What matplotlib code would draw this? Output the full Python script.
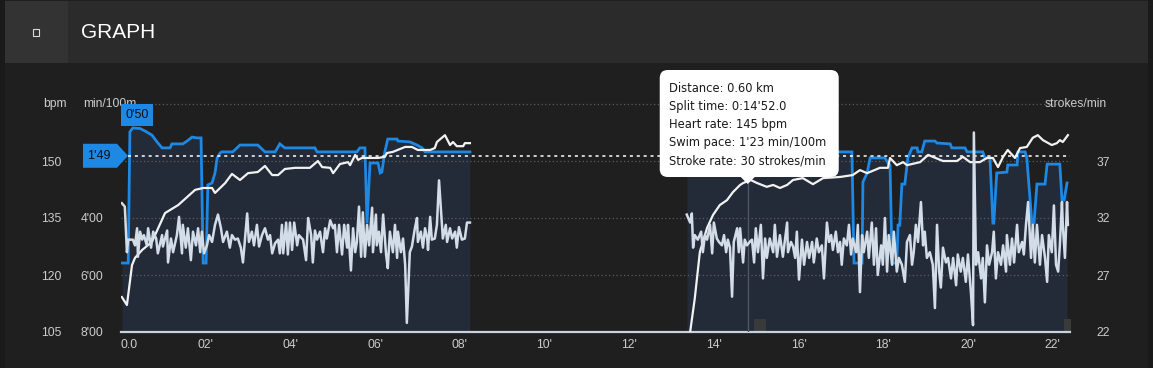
import matplotlib
matplotlib.use('Agg')
import matplotlib.pyplot as plt
from matplotlib.patches import Rectangle, Polygon, FancyBboxPatch
from matplotlib.transforms import IdentityTransform

# ---------------- data ----------------
time_ticks = [0, 2, 4, 6, 8, 10, 12, 14, 16, 18, 20, 22]
time_labels = ["0.0", "02'", "04'", "06'", "08'", "10'", "12'", "14'", "16'", "18'", "20'", "22'"]
hr_ticks = [105, 120, 135, 150]
pace_ticks = [4, 6, 8]
pace_labels = ["4'00", "6'00", "8'00"]
stroke_ticks = [22, 27, 32, 37]

# heart rate (bpm)
hr_t1 = [0.02, 0.14, 0.26, 0.33, 0.50, 0.73, 1.04, 1.35, 1.75, 1.94,
         2.15, 2.22, 2.46, 2.62, 2.81, 3.00, 3.23, 3.40, 3.57, 3.71,
         3.87, 4.11, 4.23, 4.46, 4.65, 4.75, 4.94, 5.01, 5.17, 5.36,
         5.41, 5.53, 5.60, 5.69, 5.81, 6.07, 6.23, 6.28, 6.42, 6.71,
         6.87, 7.01, 7.30, 7.41, 7.46, 7.65, 7.77, 7.84, 7.93, 8.08,
         8.12, 8.24]
hr_v1 = [114.2, 112.1, 122.6, 124.5, 126.6, 128.7, 136.3, 138.4, 142.4, 142.9,
         142.9, 141.6, 144.2, 146.6, 145.0, 146.8, 147.1, 148.7, 146.3, 146.3,
         147.9, 148.2, 148.2, 148.2, 150.0, 148.4, 148.2, 146.8, 149.2, 149.7,
         148.9, 151.6, 150.3, 150.8, 150.8, 150.8, 151.1, 152.1, 152.4, 153.7,
         153.7, 152.9, 152.9, 153.4, 155.0, 156.8, 154.2, 155.0, 153.9, 153.9,
         154.7, 154.7]
hr_t2 = [13.44, 13.55, 13.67, 13.84, 13.98, 14.14, 14.31, 14.45, 14.62, 14.69,
         14.87, 15.02, 15.25, 15.40, 15.56, 15.73, 15.87, 16.10, 16.34, 16.58,
         16.98, 17.28, 17.45, 17.62, 17.92, 18.11, 18.16, 18.32, 18.47, 18.56,
         18.87, 19.06, 19.17, 19.41, 19.74, 19.88, 20.05, 20.28, 20.45, 20.59,
         20.71, 20.83, 20.94, 21.11, 21.23, 21.39, 21.53, 21.65, 21.77, 21.98,
         22.10, 22.17, 22.24, 22.36]
hr_v2 = [105.0, 113.9, 126.1, 132.4, 135.8, 138.4, 139.7, 141.8, 143.7, 144.2,
         145.0, 144.2, 143.2, 143.7, 142.9, 143.7, 145.0, 145.5, 143.9, 145.5,
         145.8, 146.3, 147.6, 146.8, 148.2, 148.2, 150.8, 148.9, 149.7, 148.9,
         149.7, 151.6, 151.1, 150.0, 150.0, 151.1, 149.7, 149.7, 150.8, 150.8,
         148.4, 151.1, 152.9, 150.8, 153.4, 153.7, 156.1, 156.8, 155.5, 154.2,
         154.7, 155.5, 155.0, 156.8]

# swim pace (min/100m)
pace_t1 = [0.02, 0.17, 0.21, 0.28, 0.45, 0.57, 0.73, 0.85, 0.97, 1.16,
           1.20, 1.46, 1.56, 1.68, 1.79, 1.89, 1.94, 2.01, 2.05, 2.15,
           2.22, 2.27, 2.34, 2.38, 2.64, 2.81, 3.23, 3.40, 3.64, 3.75,
           3.87, 4.58, 4.63, 5.57, 5.64, 5.76, 5.81, 5.88, 6.07, 6.12,
           6.16, 6.23, 6.30, 6.52, 6.54, 6.82, 6.99, 7.11, 7.18, 8.24]
pace_v1 = [5.58, 5.58, 0.98, 0.84, 0.86, 0.95, 1.09, 1.33, 1.54, 1.54,
           1.40, 1.40, 1.30, 1.16, 1.19, 1.19, 5.58, 5.58, 2.84, 2.77,
           2.42, 1.89, 1.72, 1.68, 1.68, 1.44, 1.44, 1.68, 1.68, 1.40,
           1.54, 1.54, 1.68, 1.68, 1.54, 1.54, 4.18, 2.07, 2.07, 2.42,
           2.39, 1.68, 1.23, 1.23, 1.30, 1.33, 1.44, 1.54, 1.68, 1.68]
pace_t2 = [13.36, 14.20, 14.87, 15.30, 16.60, 17.26, 17.31, 17.50, 17.52, 17.62,
           17.69, 18.04, 18.11, 18.16, 18.21, 18.32, 18.35, 18.39, 18.44, 18.51,
           18.58, 18.68, 18.80, 18.82, 18.91, 18.98, 19.22, 19.27, 19.58, 19.62,
           19.93, 19.98, 20.35, 20.40, 20.52, 20.59, 20.61, 20.68, 20.92, 20.94,
           21.16, 21.18, 21.35, 21.39, 21.51, 21.56, 21.63, 21.82, 21.87, 22.17,
           22.22, 22.27, 22.34]
pace_v2 = [1.62, 1.45, 1.38, 1.55, 1.68, 1.68, 5.58, 5.58, 2.74, 2.42,
           1.89, 1.89, 2.07, 2.14, 5.58, 5.58, 4.25, 4.25, 2.81, 2.81,
           1.89, 1.54, 1.54, 1.68, 1.68, 1.30, 1.30, 1.37, 1.40, 1.54,
           1.54, 1.68, 1.68, 1.89, 1.89, 4.18, 4.18, 2.42, 2.39, 2.14,
           2.14, 1.68, 1.68, 1.89, 4.18, 4.18, 2.81, 2.81, 2.11, 2.11,
           3.37, 3.37, 2.77]
avg_pace = 1 + 49 / 60.0

# stroke rate (strokes/min)
st_t1 = [0.02, 0.09, 0.14, 0.17, 0.28, 0.33, 0.38, 0.40, 0.45, 0.50,
         0.54, 0.61, 0.64, 0.71, 0.76, 0.83, 0.87, 0.97, 0.99, 1.09,
         1.11, 1.18, 1.23, 1.32, 1.37, 1.44, 1.46, 1.53, 1.58, 1.65,
         1.70, 1.77, 1.82, 1.87, 1.91, 1.96, 2.03, 2.08, 2.15, 2.22,
         2.29, 2.36, 2.41, 2.50, 2.57, 2.62, 2.69, 2.76, 2.83, 2.88,
         2.98, 3.02, 3.09, 3.14, 3.21, 3.26, 3.33, 3.40, 3.47, 3.52,
         3.57, 3.64, 3.71, 3.75, 3.80, 3.83, 3.90, 3.94, 3.99, 4.04,
         4.09, 4.16, 4.20, 4.30, 4.37, 4.42, 4.49, 4.53, 4.58, 4.63,
         4.70, 4.77, 4.82, 4.86, 4.94, 5.01, 5.05, 5.10, 5.15, 5.22,
         5.27, 5.34, 5.36, 5.43, 5.48, 5.53, 5.57, 5.62, 5.67, 5.71,
         5.76, 5.81, 5.86, 5.93, 5.95, 6.02, 6.04, 6.09, 6.14, 6.19,
         6.26, 6.30, 6.35, 6.42, 6.47, 6.52, 6.54, 6.61, 6.66, 6.71,
         6.75, 6.82, 6.87, 6.94, 6.99, 7.01, 7.08, 7.13, 7.18, 7.23,
         7.25, 7.30, 7.34, 7.41, 7.46, 7.51, 7.58, 7.60, 7.67, 7.70,
         7.77, 7.82, 7.89, 7.93, 7.98, 8.05, 8.12, 8.17, 8.24]
st_v1 = [33.3, 33.0, 29.0, 30.1, 30.1, 29.6, 31.1, 28.6, 30.8, 30.1,
         30.5, 29.6, 31.1, 29.4, 30.8, 30.2, 28.9, 30.5, 29.5, 30.9,
         28.1, 30.2, 29.0, 30.5, 32.1, 28.9, 31.4, 29.4, 31.1, 28.3,
         30.8, 29.6, 31.1, 29.0, 30.8, 28.9, 29.6, 30.5, 29.9, 31.4,
         32.3, 31.1, 29.9, 30.8, 29.4, 30.5, 30.1, 30.2, 29.4, 28.1,
         32.4, 29.9, 30.8, 29.6, 31.4, 29.5, 30.5, 31.1, 30.1, 30.5,
         28.9, 29.8, 30.1, 28.9, 31.4, 28.9, 31.6, 28.8, 31.6, 29.2,
         31.6, 29.6, 30.5, 30.1, 28.3, 32.0, 30.5, 28.1, 30.9, 30.1,
         30.8, 29.0, 31.1, 30.2, 31.8, 31.1, 31.4, 29.0, 31.4, 28.8,
         31.4, 29.4, 31.4, 27.4, 31.1, 29.0, 29.9, 33.0, 28.6, 32.5,
         28.6, 31.4, 29.6, 32.9, 29.0, 32.3, 29.6, 30.8, 29.0, 32.3,
         28.8, 27.6, 30.8, 29.0, 31.4, 28.5, 30.8, 29.0, 30.2, 27.9,
         22.8, 29.0, 29.5, 31.1, 32.0, 29.9, 30.8, 29.4, 31.1, 30.2,
         29.2, 32.1, 30.1, 30.2, 31.4, 35.3, 31.4, 30.2, 31.4, 29.9,
         31.1, 30.2, 30.8, 29.4, 31.2, 30.1, 30.2, 31.6, 31.6]
st_t2 = [13.36, 13.44, 13.48, 13.51, 13.55, 13.62, 13.70, 13.74, 13.79, 13.84,
         13.91, 13.96, 14.00, 14.07, 14.12, 14.19, 14.24, 14.29, 14.33, 14.38,
         14.43, 14.47, 14.55, 14.59, 14.62, 14.69, 14.73, 14.78, 14.87, 14.90,
         14.95, 14.99, 15.04, 15.11, 15.16, 15.21, 15.25, 15.32, 15.40, 15.44,
         15.49, 15.56, 15.63, 15.68, 15.73, 15.75, 15.82, 15.87, 15.92, 15.96,
         16.01, 16.08, 16.13, 16.20, 16.25, 16.32, 16.36, 16.43, 16.48, 16.55,
         16.60, 16.67, 16.72, 16.77, 16.81, 16.88, 16.93, 16.98, 17.02, 17.07,
         17.14, 17.19, 17.24, 17.28, 17.36, 17.40, 17.45, 17.50, 17.54, 17.62,
         17.66, 17.73, 17.78, 17.83, 17.87, 17.95, 17.99, 18.04, 18.09, 18.13,
         18.21, 18.25, 18.32, 18.37, 18.44, 18.51, 18.56, 18.63, 18.68, 18.72,
         18.77, 18.82, 18.89, 18.94, 18.98, 19.03, 19.10, 19.17, 19.22, 19.27,
         19.32, 19.36, 19.41, 19.48, 19.53, 19.60, 19.65, 19.72, 19.76, 19.83,
         19.88, 19.95, 20.00, 20.07, 20.12, 20.14, 20.19, 20.24, 20.31, 20.35,
         20.40, 20.45, 20.50, 20.57, 20.61, 20.66, 20.71, 20.78, 20.83, 20.90,
         20.92, 20.99, 21.04, 21.09, 21.16, 21.20, 21.28, 21.32, 21.37, 21.42,
         21.49, 21.53, 21.58, 21.63, 21.70, 21.75, 21.82, 21.87, 21.91, 21.98,
         22.03, 22.08, 22.13, 22.17, 22.22, 22.24, 22.29, 22.34, 22.36]
st_v2 = [32.3, 31.6, 32.4, 29.4, 30.5, 30.1, 30.8, 29.0, 30.5, 30.1,
         31.4, 28.9, 31.6, 30.2, 29.9, 29.6, 30.5, 29.0, 30.1, 29.4,
         25.1, 29.9, 31.1, 29.0, 31.1, 28.1, 30.1, 29.6, 30.0, 30.1,
         28.1, 31.1, 29.0, 31.4, 26.7, 30.2, 28.5, 30.2, 29.0, 31.4,
         28.6, 30.5, 28.6, 30.1, 31.6, 29.0, 29.9, 29.5, 28.5, 30.8,
         26.6, 30.1, 27.9, 29.9, 28.5, 29.9, 28.1, 30.2, 29.0, 29.6,
         26.7, 31.6, 29.9, 30.5, 29.2, 30.8, 29.0, 29.9, 27.9, 30.2,
         29.6, 31.4, 28.8, 30.2, 29.0, 31.4, 25.5, 30.5, 29.0, 30.8,
         28.5, 31.6, 27.9, 31.1, 27.0, 29.6, 27.9, 32.0, 27.3, 30.5,
         27.9, 30.8, 27.3, 28.5, 27.9, 26.4, 29.9, 30.5, 27.9, 29.0,
         31.4, 29.9, 33.4, 29.6, 30.8, 28.5, 29.0, 27.9, 24.1, 31.4,
         27.3, 25.9, 29.4, 28.1, 28.5, 26.7, 28.5, 26.1, 28.8, 27.3,
         28.5, 26.4, 28.8, 25.5, 22.6, 39.5, 27.9, 29.0, 26.7, 28.5,
         24.6, 29.6, 27.9, 29.0, 30.8, 26.7, 29.0, 27.9, 29.6, 27.3,
         30.5, 27.9, 30.2, 28.1, 31.4, 29.0, 29.9, 28.8, 31.4, 33.4,
         28.5, 31.4, 28.1, 31.4, 27.9, 30.5, 28.5, 26.4, 30.5, 29.0,
         33.1, 27.9, 27.3, 29.6, 33.4, 31.4, 28.5, 33.4, 31.4]

# hovered point (tooltip)
hover_t = 14.80
hover_hr = 145
tooltip_lines = ["Distance: 0.60 km", "Split time: 0:14'52.0", "Heart rate: 145 bpm",
                 "Swim pace: 1'23 min/100m", "Stroke rate: 30 strokes/min"]
lap_marks = [15.08, 22.41]

# ---------------- styling ----------------
W, H = 1153, 368
BG = '#1f1f1f'
SHADE = '#222b37'
BLUE = '#1e88e5'
HR_C = '#f2f2f2'
ST_C = '#d3dde8'
TXT = '#cccccc'
GRID = '#5c5c5c'
FONT = 'Liberation Sans'

fig = plt.figure(figsize=(W / 100, H / 100), dpi=100, facecolor=BG)


def frect(x, y, w, h, c, z=-10):
    fig.add_artist(Rectangle((x / W, 1 - (y + h) / H), w / W, h / H,
                             transform=fig.transFigure, color=c, zorder=z, lw=0))


frect(0, 0, W, H, '#1a1a1a', -12)
frect(5, 0, W - 10, H, BG, -11)
frect(5, 1, W - 10, 62, '#2b2b2b')
frect(5, 1, 63, 62, '#333333')
fig.add_artist(Rectangle((33 / W, 1 - 36 / H), 6 / W, 7 / H, transform=fig.transFigure,
                         facecolor='none', edgecolor='#dddddd', lw=0.8))
fig.text(81 / W, 1 - 32 / H, 'GRAPH', color='white', fontsize=15, family=FONT,
         va='center', ha='left')

L, R, T, B = 121, 1070, 104, 332
pos = [L / W, 1 - B / H, (R - L) / W, (B - T) / H]
ax_p = fig.add_axes(pos, zorder=1)
ax_h = fig.add_axes(pos, zorder=2, sharex=ax_p)
ax_s = fig.add_axes(pos, zorder=3, sharex=ax_p)
for a in (ax_p, ax_h, ax_s):
    a.set_facecolor('none')
    for sp in a.spines.values():
        sp.set_visible(False)
    a.tick_params(length=0, colors=TXT, labelsize=8.7)
    a.patch.set_visible(False)

ax_p.set_xlim(0, 22.41)
ax_p.set_ylim(8, 0)
ax_h.set_ylim(105, 165)
ax_s.set_ylim(22, 42)

# x ticks
ax_p.set_xticks(time_ticks)
ax_p.set_xticklabels(time_labels, family=FONT, fontsize=8.7)
ax_p.tick_params(axis='x', pad=5)
ax_p.get_xticklabels()[0].set_horizontalalignment('left')
ax_h.tick_params(axis='x', labelbottom=False)
ax_s.tick_params(axis='x', labelbottom=False)

# y ticks
ax_p.set_yticks(pace_ticks)
ax_p.set_yticklabels(pace_labels, family=FONT, fontsize=8.7)
ax_p.tick_params(axis='y', pad=13)
ax_h.set_yticks(hr_ticks)
ax_h.set_yticklabels([str(v) for v in hr_ticks], family=FONT, fontsize=8.7)
ax_h.tick_params(axis='y', pad=43)
ax_s.yaxis.tick_right()
ax_s.set_yticks(stroke_ticks)
ax_s.set_yticklabels([str(v) for v in stroke_ticks], family=FONT, fontsize=8.7)
ax_s.tick_params(axis='y', pad=19)

# axis titles
fig.text(43 / W, 1 - 104 / H, 'bpm', color=TXT, fontsize=8.7, family=FONT, ha='left', va='center')
fig.text(83 / W, 1 - 104 / H, 'min/100m', color=TXT, fontsize=8.7, family=FONT, ha='left', va='center')
fig.text(1107 / W, 1 - 104 / H, 'strokes/min', color=TXT, fontsize=8.7, family=FONT, ha='right', va='center')

# shaded area under pace
ax_p.fill_between(pace_t1, pace_v1, 8, color=SHADE, lw=0, zorder=1)
ax_p.fill_between(pace_t2, pace_v2, 8, color=SHADE, lw=0, zorder=1)

# grid
for g in [0, 2, 4, 6]:
    ax_p.axhline(g, color=GRID, lw=0.9, ls=(0, (1, 2)), zorder=1.5, clip_on=False)
ax_p.axhline(8, color='#c8d2dc', lw=1.6, zorder=6, clip_on=False)

# hover crosshair
ax_h.plot([hover_t, hover_t], [105, hover_hr], color='#4d5663', lw=1, zorder=1)

# lap markers
ax_p.scatter(lap_marks, [7.74] * len(lap_marks), marker='s', s=70, color='#3a3a3a', zorder=2, lw=0)

# series
ax_p.plot(pace_t1, pace_v1, color=BLUE, lw=2, zorder=3, solid_joinstyle='miter')
ax_p.plot(pace_t2, pace_v2, color=BLUE, lw=2, zorder=3, solid_joinstyle='miter')
ax_p.axhline(avg_pace, xmin=7 / (R - L), color='white', lw=1.1, ls=(0, (2, 2.5)), zorder=4)
ax_h.plot(hr_t1, hr_v1, color=HR_C, lw=1.6, zorder=3)
ax_h.plot(hr_t2, hr_v2, color=HR_C, lw=1.6, zorder=3)
ax_s.plot(st_t1, st_v1, color=ST_C, lw=1.8, zorder=3)
ax_s.plot(st_t2, st_v2, color=ST_C, lw=1.8, zorder=3)

ID = IdentityTransform()

# average pace marker (1'49)
_, ay = ax_p.transData.transform((0, avg_pace))
poly = Polygon([(83, ay + 12), (117, ay + 12), (128, ay), (117, ay - 12), (83, ay - 12)],
               closed=True, facecolor=BLUE, edgecolor='none', transform=ID, zorder=5)
fig.add_artist(poly)
am = int(avg_pace)
as_ = int(round((avg_pace - am) * 60))
fig.text(99, ay, "%d'%02d" % (am, as_), transform=ID, color='#111111', fontsize=9,
         family=FONT, ha='center', va='center', zorder=6)

# best pace marker
best = min(pace_v1 + pace_v2)
bi = (pace_v1 + pace_v2).index(best)
bt = (pace_t1 + pace_t2)[bi]
bx, by = ax_p.transData.transform((bt, best))
bx0 = max(L, bx - 16)
fig.add_artist(Rectangle((bx0, by + 2), 32, 22, transform=ID, facecolor=BLUE, edgecolor='none', zorder=5))
bm = int(best)
bs = int(round((best - bm) * 60))
fig.text(bx0 + 16, by + 13, "%d'%02d" % (bm, bs), transform=ID, color='#111111', fontsize=9,
         family=FONT, ha='center', va='center', zorder=6)

# tooltip
tx, ty = ax_h.transData.transform((hover_t, hover_hr))
ty = ty - 4
box = FancyBboxPatch((tx - 88, ty + 7), 179, 107, boxstyle='round,pad=0,rounding_size=8',
                     facecolor='white', edgecolor='none', transform=ID, zorder=7)
fig.add_artist(box)
fig.add_artist(Polygon([(tx - 8, ty + 8), (tx + 8, ty + 8), (tx, ty)], closed=True,
                       facecolor='white', edgecolor='none', transform=ID, zorder=7))
for i, line in enumerate(tooltip_lines):
    fig.text(tx - 79, ty + 7 + 107 - 18 - 18.3 * i, line, transform=ID, color='#1a1a1a',
             fontsize=8.3, family='DejaVu Sans', ha='left', va='center', zorder=8)

fig.savefig('out.png', dpi=100, facecolor=BG)
